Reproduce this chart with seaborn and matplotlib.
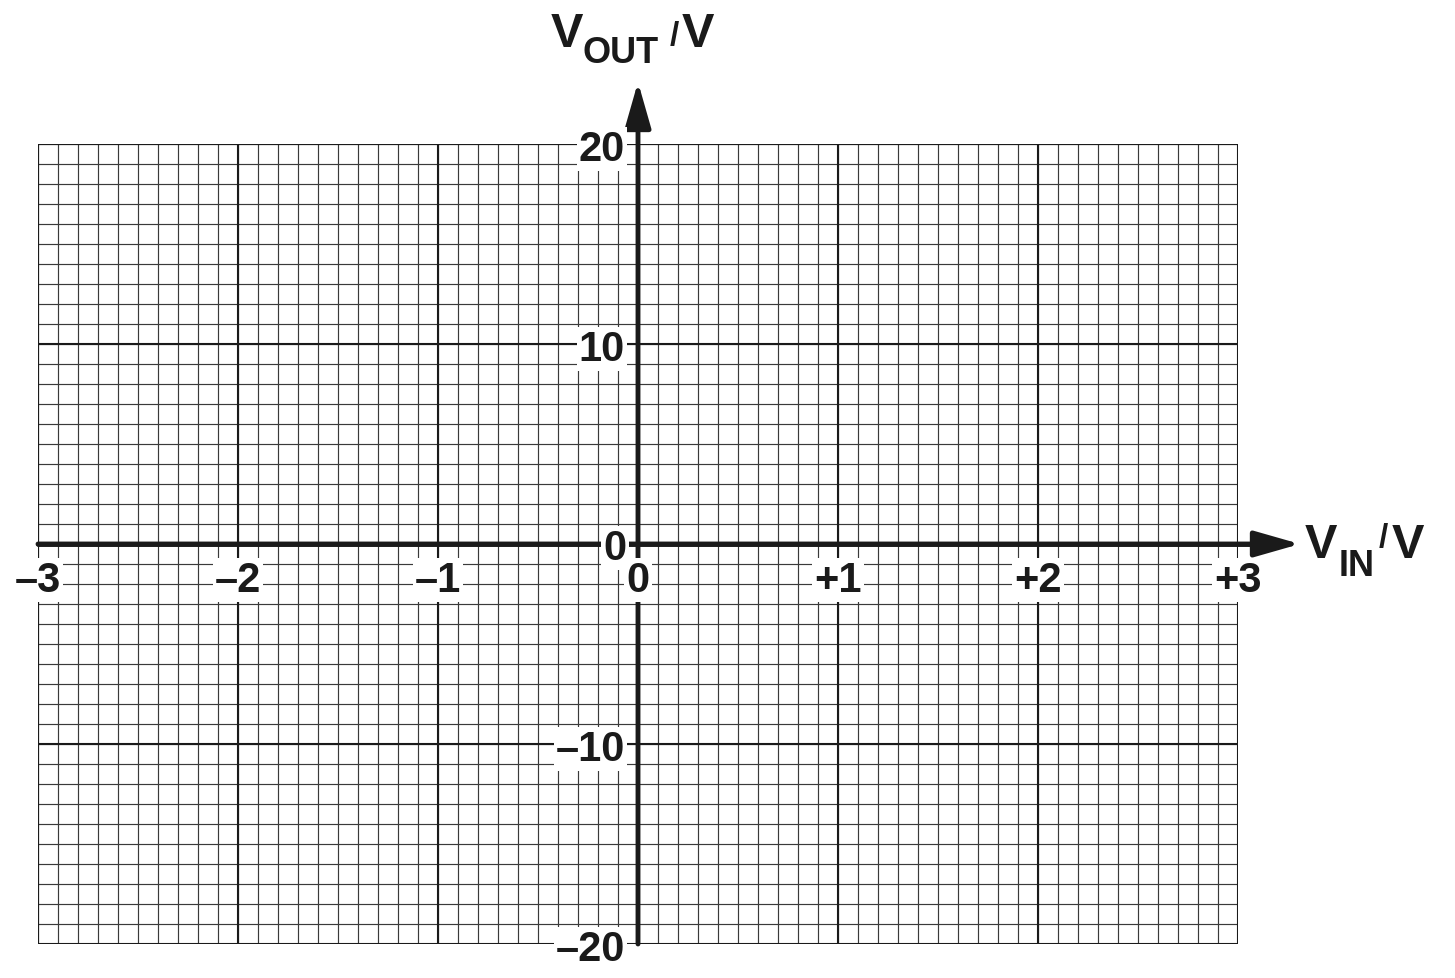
import numpy as np
import matplotlib
matplotlib.use("Agg")
import matplotlib.pyplot as plt
import seaborn as sns
import pandas as pd

# ---- data ----
x_major = [-3, -2, -1, 0, 1, 2, 3]
x_labels = ["–3", "–2", "–1", "0", "+1", "+2", "+3"]
y_major = [-20, -10, 0, 10, 20]
y_labels = ["–20", "–10", "0", "10", "20"]
x_minor_step = 0.1
y_minor_step = 1
x_range = (-3, 3)
y_range = (-20, 20)
x_arrow_tip = 3.31
y_arrow_tip = 23.1

sns.set_theme(style="white")
plt.rcParams['font.family'] = ['Liberation Sans', 'DejaVu Sans']

W, H = 1455, 979
fig = plt.figure(figsize=(W / 100, H / 100), dpi=100)
ax = fig.add_axes([38/W, 34/H, 1200/W, 800/H])
ax.set_xlim(*x_range)
ax.set_ylim(*y_range)
for s in ax.spines.values():
    s.set_visible(False)
ax.set_xticks([])
ax.set_yticks([])

xs_minor = np.round(np.arange(x_range[0], x_range[1] + 1e-9, x_minor_step), 6)
ys_minor = np.arange(y_range[0], y_range[1] + 1, y_minor_step)

ax.vlines(xs_minor, y_range[0], y_range[1], colors='#3a3a3a', lw=0.85, zorder=1)
ax.hlines(ys_minor, x_range[0], x_range[1], colors='#3a3a3a', lw=0.85, zorder=1)
ax.vlines(x_major, y_range[0], y_range[1], colors='#1a1a1a', lw=1.5, zorder=2)
ax.hlines(y_major, x_range[0], x_range[1], colors='#1a1a1a', lw=1.5, zorder=2)

# axes lines
axis_df = pd.DataFrame({"x": [x_range[0], x_arrow_tip - 0.15], "y": [0, 0]})
sns.lineplot(data=axis_df, x="x", y="y", ax=ax, color='#1a1a1a', lw=3.5,
             zorder=5, clip_on=False, legend=False)
for tip, start in [((x_arrow_tip, 0), (x_range[0], 0)), ((0, y_arrow_tip), (0, y_range[0]))]:
    ax.annotate('', xy=tip, xytext=start,
                arrowprops=dict(arrowstyle='-|>,head_length=1.4,head_width=0.4',
                                mutation_scale=20, lw=3.5, color='#1a1a1a',
                                shrinkA=0, shrinkB=0),
                annotation_clip=False, zorder=5)

box = dict(facecolor='white', edgecolor='none', pad=1.5)
for xv, lab in zip(x_major, x_labels):
    ax.text(xv, -1.8, lab, ha='center', va='center', fontsize=30,
            fontweight='bold', color='#1a1a1a', bbox=box, zorder=6, clip_on=False)
for yv, lab in zip(y_major, y_labels):
    if yv == 0:
        ax.text(-0.115, -0.2, lab, ha='center', va='center', fontsize=30,
                fontweight='bold', color='#1a1a1a', bbox=box, zorder=6)
    else:
        ax.text(-0.065, yv - 0.25, lab, ha='right', va='center', fontsize=30,
                fontweight='bold', color='#1a1a1a', bbox=box, zorder=6, clip_on=False)


def ftext(px, py, s, size):
    fig.text(px / W, 1 - py / H, s, ha='left', va='baseline', fontsize=size,
             fontweight='bold', color='#1a1a1a')


# V_IN / V
ftext(1305, 558, "V", 35)
ftext(1339, 576, "IN", 26)
ftext(1379, 547, "/", 24)
ftext(1392, 558, "V", 35)
# V_OUT / V
ftext(551, 47, "V", 35)
ftext(583, 63, "OUT", 26)
ftext(670, 45, "/", 24)
ftext(682, 47, "V", 35)

fig.savefig("out.png", dpi=100, facecolor='white')
